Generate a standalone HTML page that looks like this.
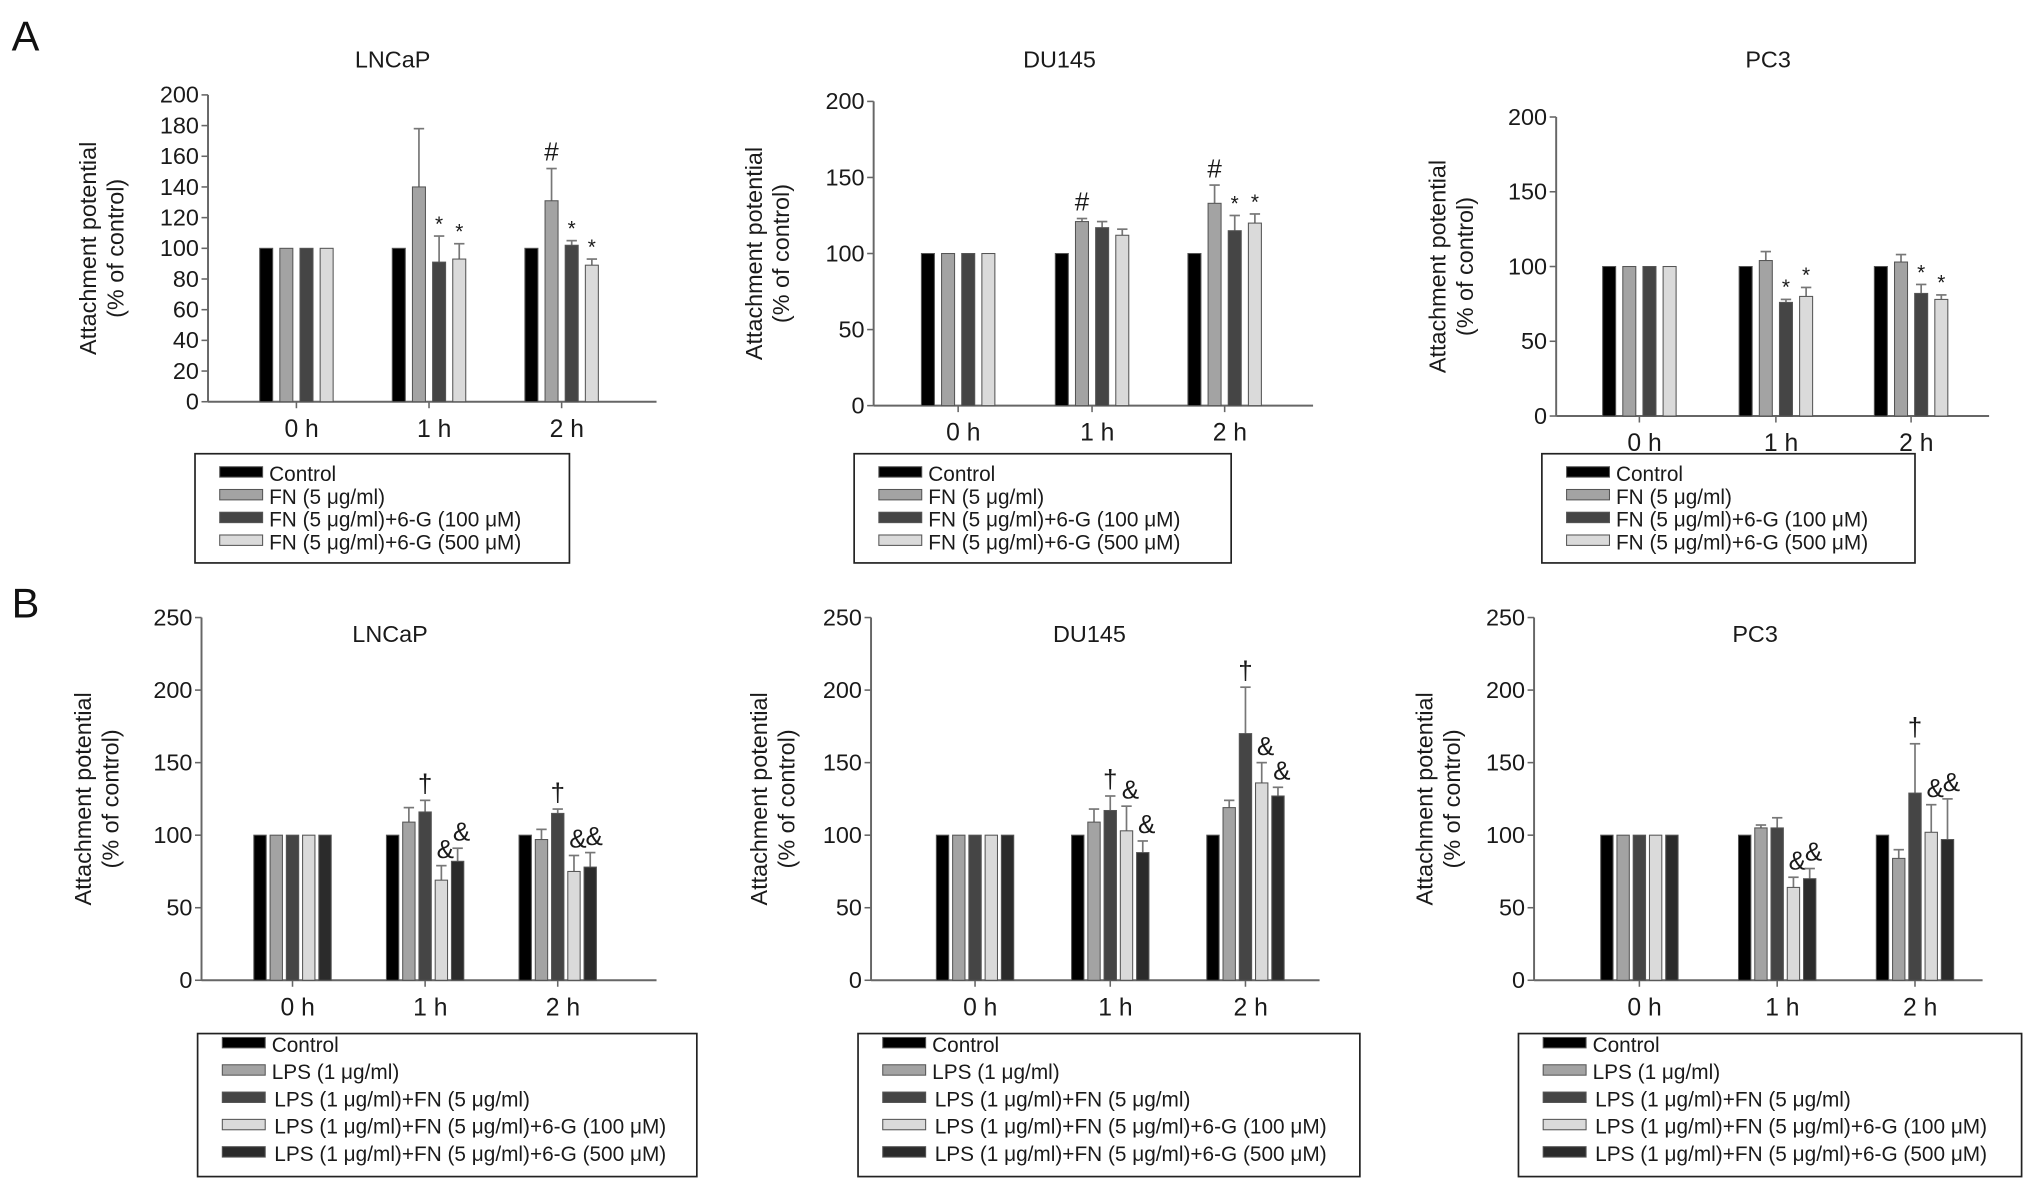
<!DOCTYPE html>
<html><head><meta charset="utf-8"><style>
html,body{margin:0;padding:0;background:#fff;}
svg{display:block;font-family:"Liberation Sans",Arial,sans-serif;}
</style></head><body>
<svg id="fig" width="2032" height="1194" viewBox="0 0 1563 918.4" preserveAspectRatio="none" xmlns="http://www.w3.org/2000/svg">
<text x="9" y="39" font-size="32" fill="#111">A</text>
<text x="9" y="475" font-size="32" fill="#111">B</text>
</svg>
<script>
const categories = ["0 h","1 h","2 h"];
const legendA = ["Control","FN (5 μg/ml)","FN (5 μg/ml)+6-G (100 μM)","FN (5 μg/ml)+6-G (500 μM)"];
const legendB = ["Control","LPS (1 μg/ml)","LPS (1 μg/ml)+FN (5 μg/ml)","LPS (1 μg/ml)+FN (5 μg/ml)+6-G (100 μM)","LPS (1 μg/ml)+FN (5 μg/ml)+6-G (500 μM)"];
const ticksA1 = [0,20,40,60,80,100,120,140,160,180,200];
const ticksA2 = [0,50,100,150,200];
const ticksB = [0,50,100,150,200,250];
const aLNCaPVals = [[100,100,100,100],[100,140,91,93],[100,131,102,89]];
const aLNCaPErr  = [[0,0,0,0],[0,178,108,103],[0,152,105,93]];
const aLNCaPMark = [["","","",""],["","","*","*"],["","#","*","*"]];
const aDU145Vals = [[100,100,100,100],[100,121,117,112],[100,133,115,120]];
const aDU145Err  = [[0,0,0,0],[0,123,121,116],[0,145,125,126]];
const aDU145Mark = [["","","",""],["","#","",""],["","#","*","*"]];
const aPC3Vals = [[100,100,100,100],[100,104,76,80],[100,103,82,78]];
const aPC3Err  = [[0,0,0,0],[0,110,78,86],[0,108,88,81]];
const aPC3Mark = [["","","",""],["","","*","*"],["","","*","*"]];
const bLNCaPVals = [[100,100,100,100,100],[100,109,116,69,82],[100,97,115,75,78]];
const bLNCaPErr  = [[0,0,0,0,0],[0,119,124,79,91],[0,104,118,86,88]];
const bLNCaPMark = [["","","","",""],["","","†","&","&"],["","","†","&","&"]];
const bDU145Vals = [[100,100,100,100,100],[100,109,117,103,88],[100,119,170,136,127]];
const bDU145Err  = [[0,0,0,0,0],[0,118,127,120,96],[0,124,202,150,133]];
const bDU145Mark = [["","","","",""],["","","†","&","&"],["","","†","&","&"]];
const bPC3Vals = [[100,100,100,100,100],[100,105,105,64,70],[100,84,129,102,97]];
const bPC3Err  = [[0,0,0,0,0],[0,107,112,71,77],[0,90,163,121,125]];
const bPC3Mark = [["","","","",""],["","","","&","&"],["","","†","&","&"]];

const colorsA = ["#000","#a3a3a3","#454545","#dadada"];
const colorsB = ["#000","#a3a3a3","#454545","#dadada","#2b2b2b"];
const NS="http://www.w3.org/2000/svg";
const svg=document.getElementById('fig');
function mk(tag,attrs,parent,txt){const e=document.createElementNS(NS,tag);for(const k in attrs)e.setAttribute(k,attrs[k]);if(txt!==undefined)e.textContent=txt;(parent||svg).appendChild(e);return e;}

function panel(o){
  const g=mk('g',{});
  
  
  const max=o.ticks[o.ticks.length-1];
  const y=v=>o.y0-(v/max)*(o.y0-o.yTop);
  const x=i=>o.cx[i];
  let e=mk('line',{x1:o.ax,y1:o.yTop,x2:o.ax,y2:o.y0,stroke:'#666','stroke-width':1.5},g);
  
  e=mk('line',{x1:o.ax,y1:o.y0,x2:o.axEnd,y2:o.y0,stroke:'#666','stroke-width':1.5},g);
  
  o.ticks.forEach(t=>{
    mk('line',{x1:o.ax-5,y1:y(t),x2:o.ax,y2:y(t),stroke:'#666','stroke-width':1.2},g);
    e=mk('text',{x:o.ax-7,y:y(t)+6,'font-size':18,'text-anchor':'end',fill:'#1a1a1a'},g,String(t));
    
  });
  const n=o.vals[0].length;
  categories.forEach((c,ci)=>{
    mk('line',{x1:x(ci),y1:o.y0,x2:x(ci),y2:o.y0+5,stroke:'#666','stroke-width':1.2},g);
    e=mk('text',{x:x(ci)+4,y:o.y0+27,'font-size':19,'text-anchor':'middle',fill:'#1a1a1a'},g,c);
    
    for(let s=0;s<n;s++){
      const bx=x(ci)+(s-(n-1)/2)*o.step-o.bw/2;
      const v=o.vals[ci][s], er=o.err[ci][s];
      if(er>v){
        const ex=bx+o.bw/2;
        mk('line',{x1:ex,y1:y(v),x2:ex,y2:y(er),stroke:'#777','stroke-width':1.3},g);
        mk('line',{x1:ex-4,y1:y(er),x2:ex+4,y2:y(er),stroke:'#777','stroke-width':1.3},g);
      }
      e=mk('rect',{x:bx,y:y(v),width:o.bw,height:o.y0-y(v),fill:o.colors[s],stroke:'#555','stroke-width':0.8},g);
      
      const m=o.marks[ci][s];
      if(m){
        const top=Math.max(v,er);
        e=mk('text',{x:bx+o.bw/2+(m==='&'?3:0),y:y(top)-(m==='*'?4:6),'font-size':m==='*'?16:20,'text-anchor':'middle',fill:'#1a1a1a'},g,m);
        
      }
    }
  });
  e=mk('text',{x:o.tx,y:o.ty,'font-size':18,'text-anchor':'middle',fill:'#1a1a1a'},g,o.title);
  
  const yt=mk('text',{transform:`translate(${o.ytx},${(o.yTop+o.y0)/2}) rotate(-90)`,'font-size':18,'text-anchor':'middle',fill:'#1a1a1a'},g);
  
  mk('tspan',{x:0,dy:0},yt,'Attachment potential');
  mk('tspan',{x:0,dy:21},yt,'(% of control)');
  const lg=mk('g',{},g);
  
  mk('rect',{x:o.lx,y:o.ly,width:o.lw,height:o.lh,fill:'#fff',stroke:'#222','stroke-width':1.3},lg);
  o.legend.forEach((t,i)=>{
    const ry=o.ly+o.rowOff+i*o.rowH;
    mk('rect',{x:o.lx+19,y:ry-11,width:33,height:8,fill:o.colors[i],stroke:'#555','stroke-width':0.8},lg);
    e=mk('text',{x:o.lx+57+(i>=2&&o.legend.length===5?2:0),y:ry,'font-size':16,fill:'#1a1a1a'},lg,t);
    
  });
}
const A={colors:colorsA,legend:legendA,step:15.5,bw:10,lw:288,lh:84,ly:349,rowOff:21,rowH:17.5,ty:52};
panel(Object.assign({},A,{name:'chart-a-lncap',title:'LNCaP',vals:aLNCaPVals,err:aLNCaPErr,marks:aLNCaPMark,ticks:ticksA1,ax:160,axEnd:505,yTop:73,y0:309,cx:[228,330,432],tx:302,ytx:74,lx:150}));
panel(Object.assign({},A,{name:'chart-a-du145',title:'DU145',vals:aDU145Vals,err:aDU145Err,marks:aDU145Mark,ticks:ticksA2,ax:672,axEnd:1010,yTop:78,y0:312,cx:[737,840,942],tx:815,ytx:586,lx:657,lw:290}));
panel(Object.assign({},A,{name:'chart-a-pc3',title:'PC3',vals:aPC3Vals,err:aPC3Err,marks:aPC3Mark,ticks:ticksA2,ax:1197,axEnd:1530,yTop:90,y0:320,cx:[1261,1366,1470],tx:1360,ytx:1112,lx:1186,lw:287}));
const B={colors:colorsB,legend:legendB,step:12.5,bw:9.5,lh:110,ly:795,rowOff:14,rowH:21,ty:494,yTop:475,y0:754};
panel(Object.assign({},B,{name:'chart-b-lncap',title:'LNCaP',vals:bLNCaPVals,err:bLNCaPErr,marks:bLNCaPMark,ticks:ticksB,ax:155,axEnd:505,cx:[225,327,429],tx:300,ytx:70,lx:152,lw:384}));
panel(Object.assign({},B,{name:'chart-b-du145',title:'DU145',vals:bDU145Vals,err:bDU145Err,marks:bDU145Mark,ticks:ticksB,ax:670,axEnd:1015,cx:[750,854,958],tx:838,ytx:590,lx:660,lw:386}));
panel(Object.assign({},B,{name:'chart-b-pc3',title:'PC3',vals:bPC3Vals,err:bPC3Err,marks:bPC3Mark,ticks:ticksB,ax:1180,axEnd:1525,cx:[1261,1367,1473],tx:1350,ytx:1102,lx:1168,lw:387}));
</script>
</body></html>
